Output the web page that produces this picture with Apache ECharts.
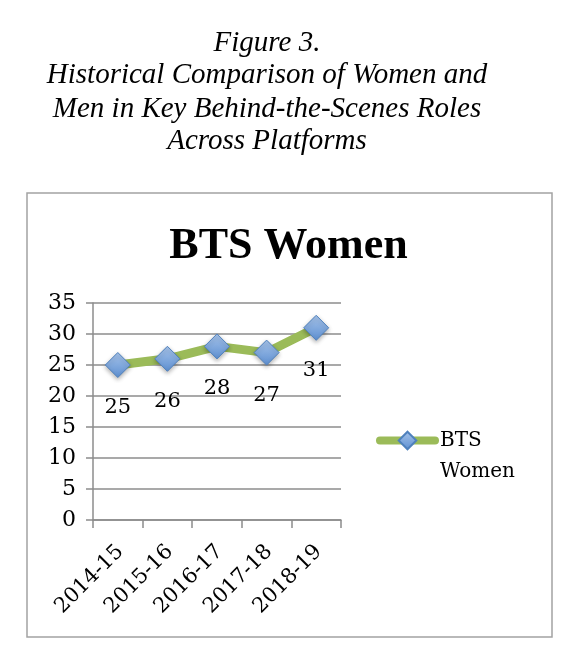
<!DOCTYPE html>
<html>
<head>
    <meta charset="utf-8">
    <title>BTS Women</title>
    <script src="https://cdn.jsdelivr.net/npm/echarts@6/dist/echarts.min.js"></script>
    <style>
        html, body { margin: 0; padding: 0; background: #fff; }
    </style>
</head>
<body>
    <div id="main" style="width: 577px;height:657px;"></div>
    <script type="text/javascript">
        var seasons = ['2014-15', '2015-16', '2016-17', '2017-18', '2018-19'];
        var btsWomen = [25, 26, 28, 27, 31];
        var captionLines = [
            'Figure 3.',
            'Historical Comparison of Women and',
            'Men in Key Behind-the-Scenes Roles',
            'Across Platforms'
        ];

        var serif = '"Liberation Serif", "Times New Roman", serif';
        var wideSerif = '"DejaVu Serif", "Liberation Serif", serif';
        var myChart = echarts.init(document.getElementById('main'));

        // caption above the chart box, one text per line
        var captionY = [43, 75, 109, 141];
        var graphics = captionLines.map(function (t, i) {
            return {
                type: 'text',
                x: 267,
                y: captionY[i],
                style: {
                    text: t,
                    fill: '#000',
                    font: 'italic 29px ' + serif,
                    textAlign: 'center',
                    textVerticalAlign: 'middle'
                }
            };
        });
        // chart frame
        graphics.push({
            type: 'rect',
            shape: { x: 27, y: 193, width: 525, height: 444 },
            style: { fill: 'none', stroke: '#a3a3a3', lineWidth: 1.5 },
            z: -1
        });

        var option = {
            backgroundColor: '#fff',
            animation: false,
            title: {
                text: 'BTS Women',
                left: 'center',
                top: 220,
                textStyle: {
                    fontFamily: serif,
                    fontWeight: 'bold',
                    fontSize: 44,
                    color: '#000'
                }
            },
            graphic: graphics,
            legend: {
                left: 376,
                top: 394,
                padding: 0,
                itemWidth: 55,
                itemHeight: 22,
                // blank first line keeps "BTS" level with the icon
                formatter: function () { return ' \nBTS\nWomen'; },
                lineStyle: { width: 8, cap: 'round' },
                textStyle: {
                    fontFamily: wideSerif,
                    fontSize: 20,
                    lineHeight: 31,
                    color: '#000'
                }
            },
            grid: {
                left: 93,
                right: 236,
                top: 303,
                bottom: 137
            },
            xAxis: {
                type: 'category',
                data: seasons,
                boundaryGap: true,
                axisLine: { lineStyle: { color: '#8c8c8c', width: 1.5 } },
                axisTick: { show: true, length: 8, lineStyle: { color: '#8c8c8c', width: 1.5 } },
                axisLabel: {
                    rotate: 45,
                    margin: 16,
                    verticalAlign: 'top',
                    padding: [0, 7, 0, 0],
                    fontFamily: wideSerif,
                    fontSize: 21,
                    color: '#000'
                }
            },
            yAxis: {
                type: 'value',
                min: 0,
                max: 35,
                interval: 5,
                axisLine: { show: true, lineStyle: { color: '#8c8c8c', width: 1.5 } },
                axisTick: { show: true, length: 7, lineStyle: { color: '#8c8c8c', width: 1.5 } },
                splitLine: { lineStyle: { color: '#8c8c8c', width: 1.5 } },
                axisLabel: {
                    margin: 17,
                    fontFamily: wideSerif,
                    fontSize: 22,
                    color: '#000'
                }
            },
            series: [{
                name: 'BTS Women',
                type: 'line',
                data: btsWomen,
                symbol: 'diamond',
                symbolSize: 25,
                lineStyle: { color: '#9bbb59', width: 9 },
                itemStyle: {
                    color: new echarts.graphic.LinearGradient(0, 0, 0, 1, [
                        { offset: 0, color: '#a7c4ea' },
                        { offset: 1, color: '#5d8fd1' }
                    ]),
                    borderColor: '#4f81bd',
                    borderWidth: 1,
                    shadowBlur: 4,
                    shadowOffsetY: 2,
                    shadowColor: 'rgba(0,0,0,0.3)'
                },
                label: {
                    show: true,
                    position: 'bottom',
                    distance: 19,
                    fontFamily: wideSerif,
                    fontSize: 21,
                    color: '#000'
                }
            }]
        };

        myChart.setOption(option);
    </script>
</body>
</html>
